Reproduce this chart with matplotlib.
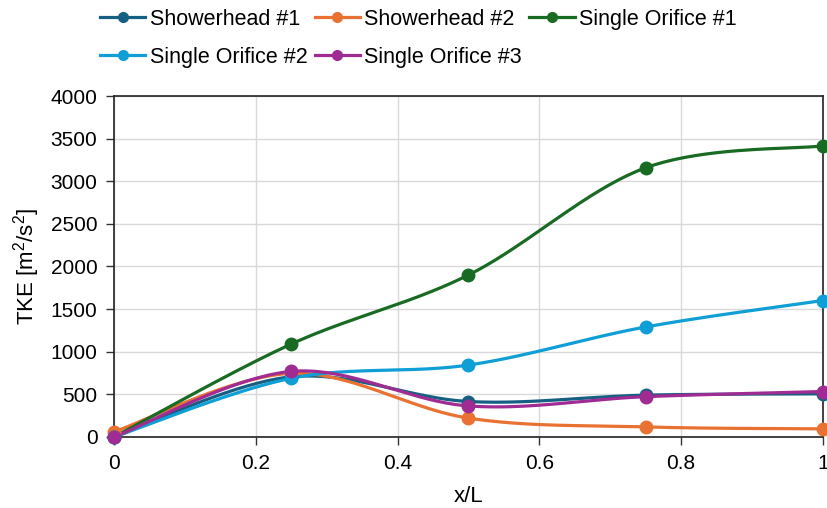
import numpy as np
import matplotlib
matplotlib.use("Agg")
import matplotlib.pyplot as plt
from matplotlib.lines import Line2D

plt.rcParams['font.family'] = ['Liberation Sans', 'DejaVu Sans']
plt.rcParams['mathtext.fontset'] = 'custom'
plt.rcParams['mathtext.rm'] = 'Liberation Sans'

# data
x_pos = [0, 0.25, 0.5, 0.75, 1.0]
showerhead_1 = [0, 705, 415, 490, 505]
showerhead_2 = [60, 745, 220, 117, 94]
single_orifice_1 = [0, 1090, 1900, 3158, 3415]
single_orifice_2 = [0, 688, 843, 1290, 1600]
single_orifice_3 = [0, 768, 363, 472, 532]

names = ["Showerhead #1", "Showerhead #2", "Single Orifice #1",
         "Single Orifice #2", "Single Orifice #3"]
colors = ["#156082", "#E97132", "#196B24", "#0F9ED5", "#A02B93"]


def smooth(xs, ys, n=40):
    # excel-like smoothed line (catmull-rom style bezier)
    xs = np.asarray(xs, float)
    ys = np.asarray(ys, float)
    px, py = [], []
    for i in range(len(xs) - 1):
        i0 = max(i - 1, 0)
        i3 = min(i + 2, len(xs) - 1)
        c1x = xs[i] + (xs[i + 1] - xs[i0]) / 6
        c1y = ys[i] + (ys[i + 1] - ys[i0]) / 6
        c2x = xs[i + 1] - (xs[i3] - xs[i]) / 6
        c2y = ys[i + 1] - (ys[i3] - ys[i]) / 6
        t = np.linspace(0, 1, n)
        bx = ((1 - t) ** 3 * xs[i] + 3 * (1 - t) ** 2 * t * c1x
              + 3 * (1 - t) * t ** 2 * c2x + t ** 3 * xs[i + 1])
        by = ((1 - t) ** 3 * ys[i] + 3 * (1 - t) ** 2 * t * c1y
              + 3 * (1 - t) * t ** 2 * c2y + t ** 3 * ys[i + 1])
        px.extend(bx)
        py.extend(by)
    return np.array(px), np.array(py)


fig = plt.figure(figsize=(8.27, 5.08), dpi=100)
ax = fig.add_axes([0.138, 0.140, 0.857, 0.671])

series = [showerhead_1, showerhead_2, single_orifice_1,
          single_orifice_2, single_orifice_3]
for ys, c in zip(series, colors):
    sx, sy = smooth(x_pos, ys)
    ax.plot(sx, sy, color=c, lw=2.3, clip_on=False, zorder=3)
    ax.plot(x_pos, ys, 'o', color=c, ms=9, clip_on=False, zorder=4)

ax.set_xlim(0, 1)
ax.set_ylim(0, 4000)
ax.set_xticks([0, 0.2, 0.4, 0.6, 0.8, 1])
ax.set_xticklabels(["0", "0.2", "0.4", "0.6", "0.8", "1"])
ax.set_yticks(range(0, 4001, 500))
ax.grid(True, color="#d9d9d9", lw=1)
ax.set_axisbelow(True)
for s in ax.spines.values():
    s.set_color("#222222")
    s.set_linewidth(1.2)
ax.tick_params(labelsize=15, length=6, width=1, color="#333333", pad=6)
ax.set_xlabel("x/L", fontsize=16, labelpad=10)
ax.set_ylabel(r"TKE [$\mathregular{m^2/s^2}$]", fontsize=16, labelpad=6)

# legend order so rows read SH1, SH2, SO1 / SO2, SO3
order = [0, 3, 1, 4, 2]
handles = [Line2D([], [], color=colors[i], lw=2.3, marker='o', ms=7) for i in order]
labels = [names[i] for i in order]
fig.legend(handles, labels, loc="upper left", bbox_to_anchor=(100 / 827, 0.983),
           ncol=3, frameon=False, fontsize=15.5, handlelength=2.1,
           handletextpad=0.2, columnspacing=0.35, labelspacing=0.8,
           borderpad=0, borderaxespad=0)

fig.savefig("out.png", dpi=100)
